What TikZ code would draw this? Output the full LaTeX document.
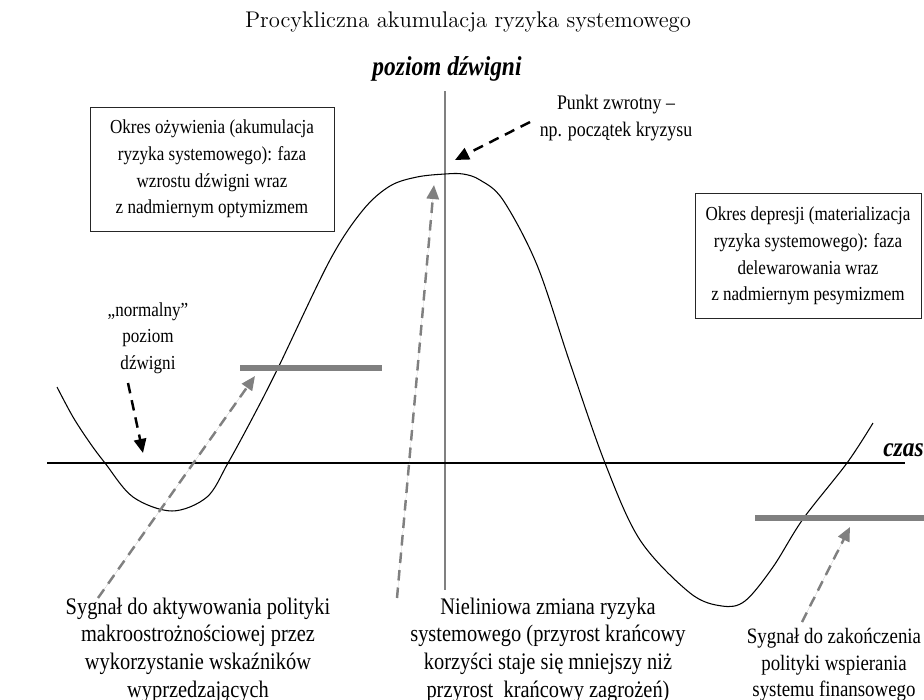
\documentclass[tikz,border=0pt]{standalone}
\usepackage{fontspec}
\newfontfamily\tnr[FakeStretch=0.86]{Liberation Serif}
\usetikzlibrary{arrows.meta}

\begin{document}
\begin{tikzpicture}[x=0.02cm,y=-0.02cm]
  \tikzstyle{txt}=[font=\tnr\fontsize{11.3}{15.2}\selectfont,align=center,inner sep=0pt]
  \tikzstyle{big}=[txt,font=\tnr\fontsize{13.5}{15.7}\selectfont]
  \tikzstyle{mid}=[txt,font=\tnr\fontsize{12.5}{15.2}\selectfont]
  \tikzstyle{box}=[txt,draw=black!85,line width=0.5pt]
  \tikzstyle{axlab}=[font=\tnr\fontsize{15.5}{16}\selectfont\bfseries\itshape,inner sep=0pt]
  \tikzstyle{gbar}=[line width=3.6pt,draw=black!50]
  \tikzstyle{garrow}=[-{Triangle[length=8pt,width=7pt]},draw=black!50,fill=black!50,line width=1.4pt,dash pattern=on 6pt off 4pt]
  \tikzstyle{barrow}=[-{Triangle[length=8pt,width=7pt]},black,line width=1.4pt,dash pattern=on 6pt off 4pt]
  \useasboundingbox (0,0) rectangle (924,700);

  \node[font=\fontsize{12.9}{14}\selectfont] (T) at (468,22) {Procykliczna akumulacja ryzyka systemowego};

  % axes
  \coordinate (V_top) at (445,91);
  \coordinate (V_bot) at (445,590);
  \coordinate (H_l) at (47,463);
  \coordinate (H_r) at (905,463);
  \draw[black!50,line width=0.9pt] (V_top) -- (V_bot);
  \draw[line width=0.6pt] (H_l) -- (H_r);
  \node[axlab] (Y_lab) at (447,69) {poziom dźwigni};
  \node[axlab,anchor=east] (X_lab) at (924,450) {czas};

  % the cycle
  \draw[line width=0.6pt] plot[smooth,tension=0.55] coordinates {
    (57,387) (73,417) (90,443) (105,463) (133,497) (172,511) (207,497)
    (228,463) (253,417) (278,368) (330,260) (363,210) (390,186) (417,177)
    (445,174) (463,174) (480,180) (503,200) (537,265) (570,363) (605,463)
    (640,540) (690,593) (722,606) (745,601) (773,567) (803,519) (847,463)
    (873,423)};

  % signal levels
  \draw[gbar] (240,368) -- (382,368);
  \draw[gbar] (755,518) -- (924,518);

  % boxes
  \node[box,minimum width=244*0.02cm,minimum height=124*0.02cm] (B_up) at (212,169)
    {Okres ożywienia (akumulacja\\ryzyka systemowego): faza\\wzrostu dźwigni wraz\\z nadmiernym optymizmem};
  \node[box,minimum width=226*0.02cm,minimum height=125*0.02cm] (B_down) at (808,256)
    {Okres depresji (materializacja\\ryzyka systemowego): faza\\delewarowania wraz\\z nadmiernym pesymizmem};

  % labels
  \node[mid,font=\tnr\fontsize{11.8}{15.2}\selectfont] (P_1) at (616,118) {Punkt zwrotny –\\np. początek kryzysu};
  \node[txt] (N_1) at (148,338) {„normalny”\\poziom\\dźwigni};
  \node[big] (S_1) at (198,650) {Sygnał do aktywowania polityki\\makroostrożnościowej przez\\wykorzystanie wskaźników\\wyprzedzających};
  \node[big] (S_2) at (548,650) {Nieliniowa zmiana ryzyka\\systemowego (przyrost krańcowy\\korzyści staje się mniejszy niż\\przyrost \ krańcowy zagrożeń)};
  \node[mid] (S_3) at (834,665) {Sygnał do zakończenia\\polityki wspierania\\systemu finansowego};

  % arrows
  \coordinate (a_1) at (530,122);  \coordinate (b_1) at (455,160);
  \coordinate (a_2) at (128,383);  \coordinate (b_2) at (143,453);
  \coordinate (a_3) at (98,598);   \coordinate (b_3) at (255,376);
  \coordinate (a_4) at (397,598);  \coordinate (b_4) at (434,185);
  \coordinate (a_5) at (802,622);  \coordinate (b_5) at (850,527);
  \draw[barrow] (a_1) -- (b_1);
  \draw[barrow] (a_2) -- (b_2);
  \draw[garrow] (a_3) -- (b_3);
  \draw[garrow] (a_4) -- (b_4);
  \draw[garrow] (a_5) -- (b_5);
\end{tikzpicture}
\end{document}
